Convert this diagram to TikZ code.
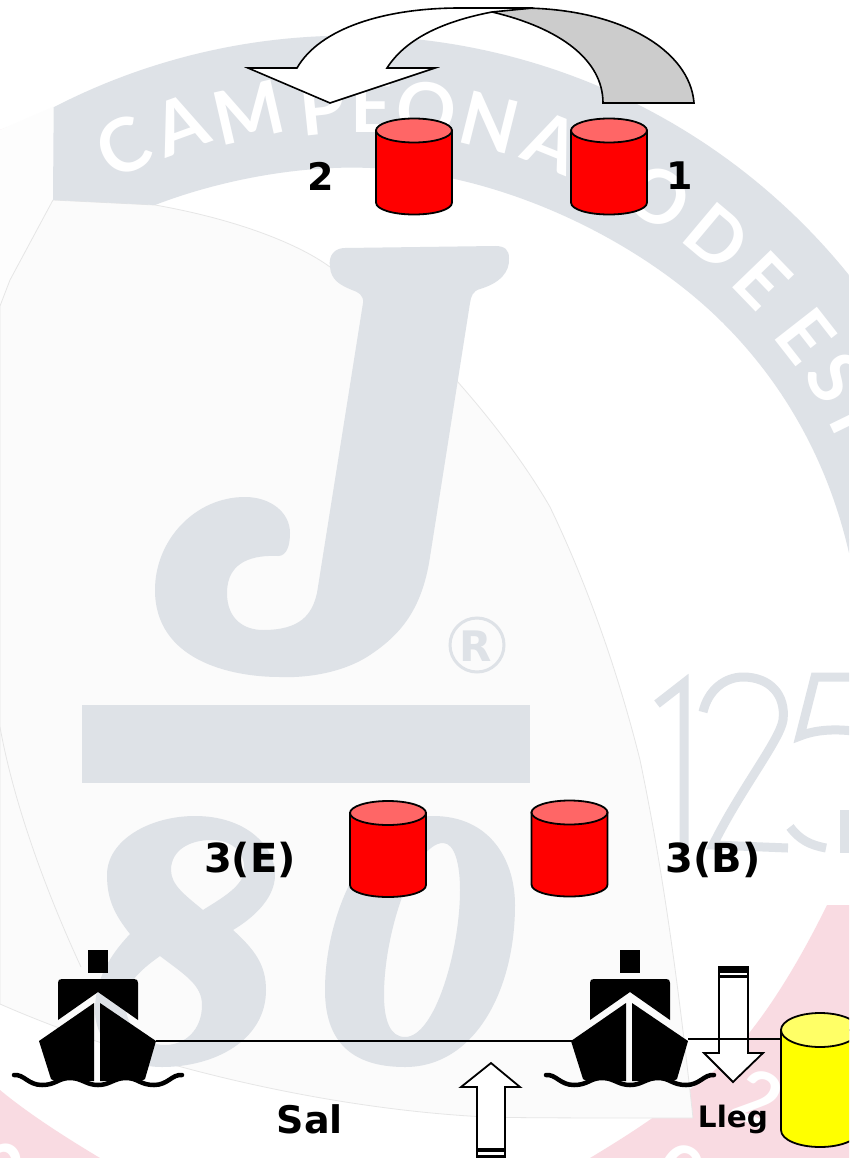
\documentclass[tikz,border=0pt]{standalone}
\usepackage{fontspec}
\setmainfont{DejaVu Sans}
\newfontfamily\wmfont{Lato}
\definecolor{wmgray}{HTML}{DEE2E7}
\definecolor{wmpink}{HTML}{F9DBE2}
\definecolor{sail}{HTML}{FBFBFB}
\definecolor{sailedge}{HTML}{E6E6E6}
\definecolor{redbody}{HTML}{FF0000}
\definecolor{redtop}{HTML}{FF6666}
\definecolor{yellowbody}{HTML}{FFFF00}
\definecolor{yellowtop}{HTML}{FFFF66}
\definecolor{archgray}{HTML}{CCCCCC}
\tikzset{
  x=1pt,y=-1pt,
  wm/.style={fill=wmgray,draw=none},
  wmline/.style={draw=wmgray,line width=9pt,fill=none},
  letter/.style={text=white,font=\wmfont\bfseries\fontsize{74}{74}\selectfont,inner sep=0pt},
  outl/.style={draw=black,line width=1.8pt,line join=miter},
  tankbox/.style={inner sep=0pt,minimum width=76pt,minimum height=96pt},
  ytankbox/.style={inner sep=0pt,minimum width=78pt,minimum height=134pt},
  lab/.style={font=\bfseries\fontsize{38}{40}\selectfont,inner sep=0pt},
  labw/.style={font=\bfseries\fontsize{40}{42}\selectfont,inner sep=0pt},
  redtank/.pic={
    \filldraw[outl,fill=redbody] (-38,-36) -- (-38,36) .. controls (-38,43) and (-21,48) .. (0,48) .. controls (21,48) and (38,43) .. (38,36) -- (38,-36) -- cycle;
    \filldraw[outl,fill=redtop] (0,-36) ellipse [x radius=38,y radius=12];
  },
  yellowtank/.pic={
    \filldraw[outl,fill=yellowbody] (-39,-50) -- (-39,50) .. controls (-39,60) and (-21,67) .. (0,67) .. controls (21,67) and (39,60) .. (39,50) -- (39,-50) -- cycle;
    \filldraw[outl,fill=yellowtop] (0,-50) ellipse [x radius=39,y radius=17];
  },
  ship/.pic={
    \fill (88,950) rectangle (108,973);
    \fill (58,1020) -- (58,983) .. controls (58,980) and (59,979) .. (62,979) -- (134,979) .. controls (137,979) and (138,980) .. (138,983) -- (138,1020) -- (98,992) -- cycle;
    \fill (39,1041) -- (94,1003) -- (94,1081) -- (90,1081) .. controls (80,1081) and (76,1078) .. (70,1078) .. controls (62,1078) and (58,1084) .. (51,1079) -- cycle;
    \fill (156,1041) -- (100,1003) -- (100,1081) -- (104,1081) .. controls (114,1081) and (120,1078) .. (126,1078) .. controls (134,1078) and (138,1084) .. (145,1079) -- cycle;
    \draw[line width=4.5pt,line cap=round] (14,1075) .. controls (24,1074) and (28,1085) .. (42,1085)
      .. controls (56,1085) and (58,1078) .. (70,1078) .. controls (82,1078) and (86,1085) .. (98,1085)
      .. controls (110,1085) and (114,1078) .. (126,1078) .. controls (138,1078) and (140,1085) .. (154,1085)
      .. controls (168,1085) and (172,1074) .. (182,1075);
  }
}
\begin{document}
\begin{tikzpicture}
\useasboundingbox (0,0) rectangle (849,1158);
\clip (0,0) rectangle (849,1158);
% --- watermark
\fill[white] (0,0) rectangle (849,1158);
\fill[wmpink] (0,130) -- (22,122) -- (0,143) -- cycle;
\fill[wmpink] (849,905) -- (827,905) .. controls (800,960) and (750,1050) .. (693,1087) .. controls (660,1115) and (620,1140) .. (590,1158) -- (849,1158) -- cycle;
\fill[wmpink] (0,1090) .. controls (30,1115) and (70,1140) .. (100,1158) -- (0,1158) -- cycle;
\fill[sail!60!white] (53,107) -- (53,200) -- (10,280) -- (0,306) -- (0,130) -- cycle;
\filldraw[fill=sail,draw=sailedge,line width=.8pt] (53,200) -- (155,205)
  .. controls (240,220) and (300,245) .. (330,267)
  .. controls (400,310) and (500,420) .. (550,507)
  .. controls (590,590) and (620,680) .. (640,760)
  .. controls (665,880) and (680,1000) .. (693,1118)
  .. controls (600,1118) and (520,1118) .. (487,1117)
  .. controls (340,1110) and (150,1070) .. (0,1004)
  -- (0,727) -- (0,306) -- (10,280) -- cycle;
\draw[sailedge,line width=.8pt] (0,727) .. controls (15,810) and (50,900) .. (81,967);
\fill[wm] plot[domain=117.3:38.9,samples=80] ({348.5+642.8*cos(\x)},{678.4-642.8*sin(\x)})
  -- (849,553) .. controls (830,470) and (790,390) .. (723,323)
  .. controls (640,240) and (500,172) .. (370,168)
  .. controls (300,165) and (220,180) .. (155,205)
  -- (53,200) -- cycle;
\foreach \ch/\px/\py/\ang in {C/123/147/27,A/180/125/20,M/249/113/13,P/322/108/6,E/372/106/0,O/426/110/-7,N/490/122/-14,A/552/142/-22,T/610/168/-28,O/658/197/-35,D/717/237/-40,E/763/280/-46,E/806/336/-52,S/836/378/-58,P/862/428/-64}
  \node[letter,rotate=\ang] at (\px,\py) {\ch};
% J
\fill[wm] (330,267) .. controls (328,255) and (335,248) .. (345,248) -- (495,246)
  .. controls (505,246) and (509,250) .. (509,258) .. controls (510,272) and (500,283) .. (480,289)
  .. controls (473,291) and (471,296) .. (470,303) -- (430,557)
  .. controls (422,610) and (400,635) .. (370,655) .. controls (340,675) and (300,678) .. (280,677)
  .. controls (230,677) and (155,660) .. (155,590)
  .. controls (155,540) and (195,497) .. (245,497) .. controls (270,497) and (290,512) .. (290,533)
  .. controls (290,545) and (287,556) .. (278,556) .. controls (255,555) and (227,560) .. (227,593)
  .. controls (227,620) and (245,630) .. (263,630) .. controls (300,630) and (312,615) .. (317,593)
  -- (363,303) .. controls (364,295) and (358,292) .. (352,290) .. controls (340,285) and (331,280) .. (330,267) -- cycle;
% registered mark
\draw[wmgray,line width=3pt] (477,645) circle (27);
\node[font=\bfseries\fontsize{42}{42}\selectfont,text=wmgray,inner sep=0pt] (reg) at (476,646) {R};
% bar
\fill[wm] (82,705) rectangle (530,783);
% 8
\fill[wm,even odd rule] (195,816) .. controls (245,816) and (275,845) .. (275,875) .. controls (275,900) and (250,920) .. (233,930) .. controls (255,950) and (266,965) .. (266,990) .. controls (266,1040) and (215,1067) .. (162,1067) .. controls (125,1067) and (95,1045) .. (95,1010) .. controls (95,975) and (115,950) .. (130,934) .. controls (115,915) and (107,900) .. (107,875) .. controls (107,840) and (150,816) .. (195,816) -- cycle
  (211,840) .. controls (235,840) and (246,855) .. (244,872) .. controls (242,888) and (215,902) .. (203,910) .. controls (185,895) and (171,885) .. (171,870) .. controls (171,850) and (190,840) .. (211,840) -- cycle
  (160,956) .. controls (185,975) and (202,985) .. (202,1005) .. controls (202,1030) and (185,1045) .. (165,1045) .. controls (140,1045) and (125,1025) .. (125,1000) .. controls (125,985) and (140,970) .. (160,956) -- cycle;
% 0
\fill[wm,even odd rule] (433,816) .. controls (490,816) and (515,860) .. (515,905) .. controls (515,990) and (475,1067) .. (405,1067) .. controls (350,1067) and (325,1040) .. (325,990) .. controls (325,910) and (370,816) .. (433,816) -- cycle
  (443,843) .. controls (455,843) and (460,865) .. (460,890) .. controls (460,950) and (435,1037) .. (405,1037) .. controls (390,1037) and (384,1020) .. (384,995) .. controls (384,930) and (415,843) .. (443,843) -- cycle;
% 125
\draw[wmline,line join=miter] (657,704) -- (684,683) -- (684,853);
\draw[wmline,line cap=butt] (703,712) .. controls (708,690) and (725,677) .. (743,677) .. controls (770,677) and (786,695) .. (783,720) .. controls (780,740) and (740,790) .. (713,845) -- (788,848);
\draw[wmline] (860,677) -- (815,677) -- (800,736) .. controls (815,730) and (835,728) .. (860,732);
\draw[wmline] (790,827) .. controls (800,840) and (810,845) .. (826,848);
\fill[wm] (840,810) rectangle (849,853);
% white figures on the pink band
\node[letter,rotate=-25] (fig2) at (758,1098) {2};
\node[letter,rotate=-25] (fig0) at (680,1172) {0};
\node[letter,rotate=30] (fig3) at (10,1170) {2};
% --- arch arrow
\filldraw[outl,fill=archgray,line width=1.6pt] (603,103) -- (694,103) .. controls (690,50) and (620,8) .. (520,8) -- (492,12) .. controls (560,28) and (603,60) .. (603,103) -- cycle;
\filldraw[outl,fill=white,line width=1.6pt] (297,68) .. controls (320,28) and (385,8) .. (460,8) -- (533,8) -- (492,12) .. controls (440,22) and (405,40) .. (387,68) -- (435,68) -- (330,103) -- (248,68) -- cycle;
% --- tanks
\node[tankbox] (t2) at (414,166.5) {};
\node[tankbox] (t1) at (609,166.5) {};
\node[tankbox] (t3e) at (388,849) {};
\node[tankbox] (t3b) at (569.5,848.5) {};
\node[ytankbox] (ty) at (820,1080) {};
\pic at (t2.center) {redtank};
\pic at (t1.center) {redtank};
\pic at (t3e.center) {redtank};
\pic at (t3b.center) {redtank};
\pic at (ty.center) {yellowtank};
% --- labels
\node[lab] (l2) at (321,176) {2};
\node[lab] (l1) at (680,176) {1};
\node[labw] (l3e) at (250,860) {3(E)};
\node[labw] (l3b) at (713,860) {3(B)};
\node[lab] (lsal) at (310,1119) {Sal};
\node[lab,font=\bfseries\fontsize{29.5}{30}\selectfont] (lleg) at (733,1119) {Lleg};
% --- ships
\pic at (0,0) {ship};
\pic at (532,0) {ship};
\coordinate (s1r) at (156,1041);
\coordinate (s2l) at (572,1041);
\coordinate (s2r) at (688,1039);
% --- vertical arrows
\filldraw[outl,fill=white] (491,1063) -- (520,1087) -- (505,1087) -- (505,1170) -- (477,1170) -- (477,1087) -- (461,1087) -- cycle;
\fill (477,1148) rectangle (505,1152);
\fill (477,1154.5) rectangle (505,1158);
\filldraw[outl,fill=white] (733,1082) -- (763,1053) -- (748,1053) -- (748,967) -- (719,967) -- (719,1053) -- (704,1053) -- cycle;
\fill (719,967) rectangle (748,973);
\fill (719,975) rectangle (748,978);
% --- connectors
\draw[line width=1.8pt] (s1r) -- (s2l);
\draw[line width=1.8pt] (s2r) -- (ty.west |- s2r);
\end{tikzpicture}
\end{document}
